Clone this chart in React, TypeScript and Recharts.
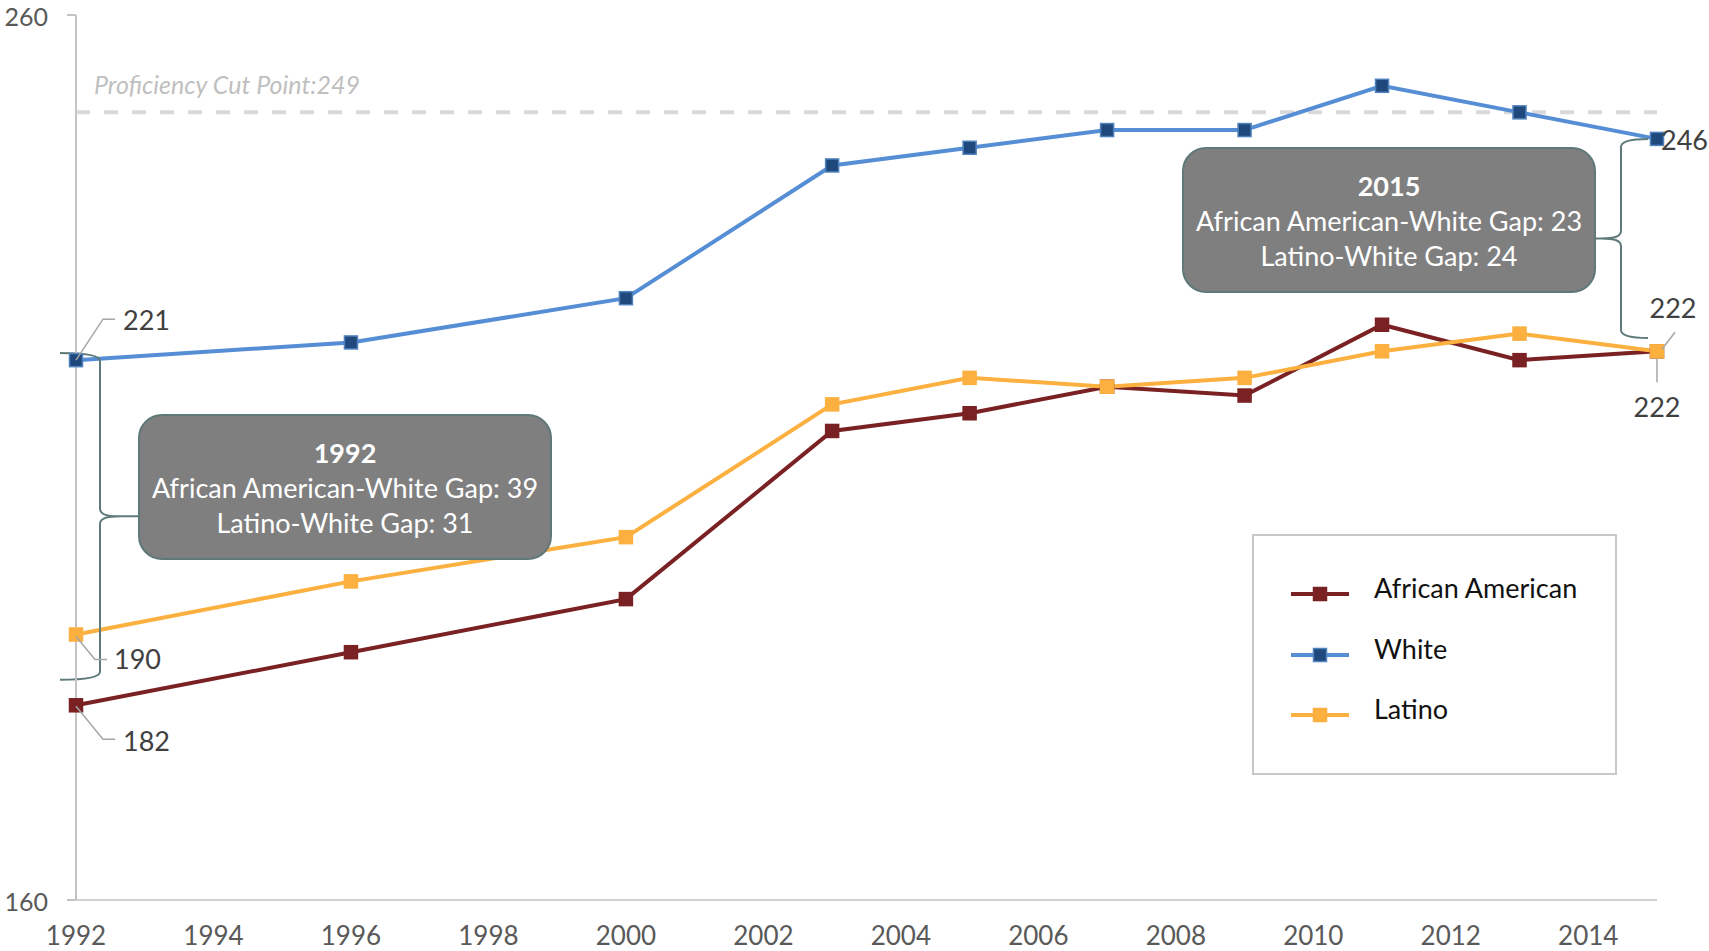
import React from 'react';
import { LineChart, Line, XAxis, YAxis, ReferenceLine, Legend } from 'recharts';

// NAEP scores by assessment year
const years = [1992, 1996, 2000, 2003, 2005, 2007, 2009, 2011, 2013, 2015];
const africanAmerican = [182, 188, 194, 213, 215, 218, 217, 225, 221, 222];
const white = [221, 223, 228, 243, 245, 247, 247, 252, 249, 246];
const latino = [190, 196, 201, 216, 219, 218, 219, 222, 224, 222];

const xTicks = [1992, 1994, 1996, 1998, 2000, 2002, 2004, 2006, 2008, 2010, 2012, 2014];
const yTicks = [160, 260];
const proficiencyCut = 249;

// score range each brace spans
const brace1992 = [221.8, 184.9];
const brace2015 = [246, 223.5];

const FONT = 'Lato, "Open Sans", sans-serif';

type SeriesDef = { key: string; name: string; values: number[]; line: string; fill: string; edge: string };

const series: SeriesDef[] = [
  { key: 'africanAmerican', name: 'African American', values: africanAmerican, line: '#7a2124', fill: '#7a2124', edge: '#7a2124' },
  { key: 'white', name: 'White', values: white, line: '#558ed5', fill: '#1f497d', edge: '#4f81bd' },
  { key: 'latino', name: 'Latino', values: latino, line: '#fbb040', fill: '#fbb040', edge: '#fbb040' },
];

const data = years.map((year, i) => ({
  year,
  africanAmerican: africanAmerican[i],
  white: white[i],
  latino: latino[i],
}));

// first / last point labels, offsets relative to the point
type Callout = { leader: number[][]; tx: number; ty: number; anchor: 'start' | 'middle' };
const callouts: Record<string, { first: Callout; last: Callout }> = {
  white: {
    first: { leader: [[0, 0], [27, -41], [39, -41]], tx: 47, ty: -40, anchor: 'start' },
    last: { leader: [], tx: 4, ty: 2, anchor: 'start' },
  },
  latino: {
    first: { leader: [[0, 2], [19, 25], [31, 25]], tx: 38, ty: 25, anchor: 'start' },
    last: { leader: [[5, -2], [18, -19]], tx: 16, ty: -43, anchor: 'middle' },
  },
  africanAmerican: {
    first: { leader: [[0, 1], [27, 34], [39, 34]], tx: 47, ty: 36, anchor: 'start' },
    last: { leader: [[0, 4], [0, 31]], tx: 0, ty: 56, anchor: 'middle' },
  },
};

const makeDot = (s: SeriesDef) => (props: any) => {
  const { cx, cy, index } = props;
  const value = props.payload?.[s.key] ?? props.value;
  const n = s.values.length;
  const c = index === 0 ? callouts[s.key].first : index === n - 1 ? callouts[s.key].last : null;
  return (
    <g key={`${s.key}-${index}`}>
      <rect x={cx - 6.5} y={cy - 6.5} width={13} height={13} fill={s.fill} stroke={s.edge} strokeWidth={1.5} />
      {c && c.leader.length > 1 && (
        <polyline
          points={c.leader.map(([dx, dy]) => `${cx + dx},${cy + dy}`).join(' ')}
          fill="none"
          stroke="#a6a6a6"
          strokeWidth={1.5}
        />
      )}
      {c && (
        <text x={cx + c.tx} y={cy + c.ty} dy="0.35em" textAnchor={c.anchor} fontSize={27} fill="#404040" fontFamily={FONT}>
          {value}
        </text>
      )}
    </g>
  );
};

// curly brace; dir 1 = tip points right, -1 = tip points left
const braceShape = (dir: number, offset: number, stub: number, tip: number) => (props: any) => {
  const { x1, y1, y2 } = props;
  const X = x1 + offset;
  const T = Math.min(y1, y2);
  const B = Math.max(y1, y2);
  const M = (T + B) / 2;
  const r = 8;
  const d = [
    `M ${X - dir * stub} ${T}`,
    `Q ${X} ${T} ${X} ${T + r}`,
    `L ${X} ${M - r}`,
    `C ${X} ${M - 2} ${X + dir * 6} ${M} ${X + dir * 20} ${M}`,
    `L ${X + dir * tip} ${M}`,
    `M ${X + dir * 20} ${M}`,
    `C ${X + dir * 6} ${M} ${X} ${M + 2} ${X} ${M + r}`,
    `L ${X} ${B - r}`,
    `Q ${X} ${B} ${X - dir * stub} ${B}`,
  ].join(' ');
  return <path d={d} fill="none" stroke="#5f7a7a" strokeWidth={2} />;
};

// y tick pushed down a hair so the top label stays inside the page
const YTick = (p: any) => (
  <text x={p.x} y={p.y + 2} dy="0.35em" textAnchor="end" fontSize={25} fill="#595959" fontFamily={FONT}>
    {p.payload.value}
  </text>
);

const renderLegend = (props: any) => {
  const payload = props.payload || [];
  const rows = [60, 121, 181];
  return (
    <div
      style={{
        width: 365,
        height: 241,
        boxSizing: 'border-box',
        border: '2px solid #c8c8c8',
        background: '#fff',
        position: 'relative',
        fontFamily: FONT,
      }}
    >
      {series.map((s, i) => {
        const entry = payload.find((p: any) => p.dataKey === s.key);
        const cy = rows[i] - 2;
        return (
          <React.Fragment key={s.key}>
            <svg style={{ position: 'absolute', left: 37, top: cy - 10 }} width={60} height={20}>
              <line x1={0} y1={10} x2={58} y2={10} stroke={s.line} strokeWidth={4} />
              <rect x={22.5} y={3.5} width={13} height={13} fill={s.fill} stroke={s.edge} strokeWidth={1.5} />
            </svg>
            <div
              style={{
                position: 'absolute',
                left: 120,
                top: cy - 6 - 18,
                height: 36,
                lineHeight: '36px',
                fontSize: 27,
                color: '#111',
                whiteSpace: 'nowrap',
              }}
            >
              {entry ? entry.value : s.name}
            </div>
          </React.Fragment>
        );
      })}
    </div>
  );
};

const boxStyle: React.CSSProperties = {
  position: 'absolute',
  width: 414,
  height: 146,
  boxSizing: 'border-box',
  background: '#7f7f7f',
  border: '2px solid #5f7878',
  borderRadius: 24,
  color: '#fff',
  fontSize: 27,
  lineHeight: '35px',
  textAlign: 'center',
  display: 'flex',
  flexDirection: 'column',
  justifyContent: 'center',
  fontFamily: FONT,
};

export default function App() {
  return (
    <div style={{ position: 'absolute', left: 0, top: 0, width: 1709, height: 951, background: '#fff', fontFamily: FONT }}>
      <LineChart width={1709} height={951} data={data} margin={{ top: 15, right: 52, bottom: 0, left: 0 }}>
        <XAxis
          dataKey="year"
          type="number"
          domain={[1992, 2015]}
          ticks={xTicks}
          height={51}
          axisLine={{ stroke: '#d0d0d0', strokeWidth: 2 }}
          tickLine={false}
          tickSize={0}
          tickMargin={27}
          tick={{ fill: '#595959', fontSize: 26, fontFamily: FONT }}
        />
        <YAxis
          type="number"
          domain={[160, 260]}
          ticks={yTicks}
          width={76}
          axisLine={{ stroke: '#c4c4c4', strokeWidth: 2 }}
          tickLine={{ stroke: '#c4c4c4', strokeWidth: 2 }}
          tickSize={9}
          tickMargin={19}
          tick={YTick}
        />
        <ReferenceLine
          y={proficiencyCut}
          stroke="#d9d9d9"
          strokeWidth={4}
          strokeDasharray="14 14"
          label={(p: any) => (
            <text
              x={p.viewBox.x + 18}
              y={p.viewBox.y - 27}
              dy="0.35em"
              fontSize={25}
              fontStyle="italic"
              fill="#bfbfbf"
              fontFamily={FONT}
            >
              {`Proficiency Cut Point:${proficiencyCut}`}
            </text>
          )}
        />
        {series.map((s) => (
          <Line
            key={s.key}
            dataKey={s.key}
            name={s.name}
            type="linear"
            stroke={s.line}
            strokeWidth={4}
            dot={makeDot(s)}
            activeDot={false}
            isAnimationActive={false}
          />
        ))}
        <ReferenceLine
          ifOverflow="visible"
          segment={[{ x: 1992, y: brace1992[0] }, { x: 1992, y: brace1992[1] }]}
          shape={braceShape(1, 24, 40, 38)}
        />
        <ReferenceLine
          ifOverflow="visible"
          segment={[{ x: 2015, y: brace2015[0] }, { x: 2015, y: brace2015[1] }]}
          shape={braceShape(-1, -36, 27, 25)}
        />
        <Legend
          layout="vertical"
          align="center"
          verticalAlign="middle"
          content={renderLegend}
          wrapperStyle={{ left: 1252, top: 534, width: 365, height: 241 }}
        />
      </LineChart>
      <div style={{ ...boxStyle, left: 138, top: 414 }}>
        <div style={{ fontWeight: 700 }}>1992</div>
        <div>African American-White Gap: 39</div>
        <div>Latino-White Gap: 31</div>
      </div>
      <div style={{ ...boxStyle, left: 1182, top: 147 }}>
        <div style={{ fontWeight: 700 }}>2015</div>
        <div>African American-White Gap: 23</div>
        <div>Latino-White Gap: 24</div>
      </div>
    </div>
  );
}
